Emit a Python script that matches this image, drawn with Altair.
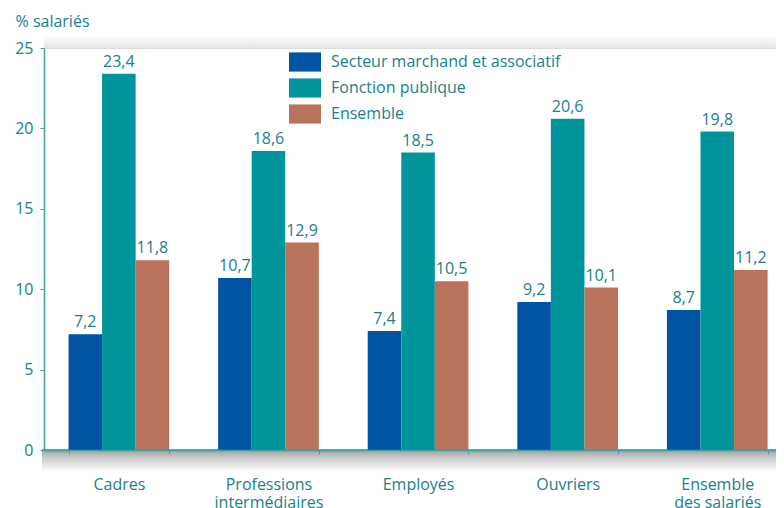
import altair as alt
import pandas as pd

categories = ["Cadres", "Professions intermédiaires", "Employés", "Ouvriers", "Ensemble des salariés"]
series = ["Secteur marchand et associatif", "Fonction publique", "Ensemble"]
secteur_marchand = [7.2, 10.7, 7.4, 9.2, 8.7]
fonction_publique = [23.4, 18.6, 18.5, 20.6, 19.8]
ensemble = [11.8, 12.9, 10.5, 10.1, 11.2]
colors = ["#0054a3", "#00959a", "#b9735a"]
y_ticks = [0, 5, 10, 15, 20, 25]

TEAL_TEXT = "#1a808b"
AXIS_COL = "#3f9ea6"
FONT = "Open Sans"
FS = 16
W = 732
H = 402

rows = []
for s, vals in zip(series, [secteur_marchand, fonction_publique, ensemble]):
    for c, v in zip(categories, vals):
        rows.append({"cat": c, "serie": s, "val": v})
df = pd.DataFrame(rows)

x_scale = alt.Scale(paddingInner=0.327, paddingOuter=0.11, align=0.745)
x_axis = alt.Axis(
    title=None,
    labelAngle=0,
    labelFontSize=FS,
    labelColor=TEAL_TEXT,
    labelFont=FONT,
    labelPadding=22,
    labelLineHeight=18.5,
    labelExpr="indexof(datum.label, ' ') > 0 ? [substring(datum.label, 0, indexof(datum.label, ' ')), substring(datum.label, indexof(datum.label, ' ') + 1)] : datum.label",
    tickBand="extent",
    tickSize=4,
    tickColor=AXIS_COL,
    domainColor=AXIS_COL,
    domainWidth=1.5,
    labelBaseline="top",
    zindex=1,
)
y_axis = alt.Axis(
    values=y_ticks,
    grid=False,
    tickSize=4,
    tickColor=AXIS_COL,
    domainColor=AXIS_COL,
    domainWidth=1.5,
    labelFontSize=FS,
    labelColor=TEAL_TEXT,
    labelFont=FONT,
    labelPadding=7,
    title="% salariés",
    titleAngle=0,
    titleAlign="left",
    titleBaseline="alphabetic",
    titleX=-29,
    titleY=-22,
    titleFontSize=FS,
    titleFontWeight="normal",
    titleColor=TEAL_TEXT,
    titleFont=FONT,
    zindex=1,
)

base = alt.Chart(df).encode(
    x=alt.X("cat:N", sort=categories, scale=x_scale, axis=x_axis),
    xOffset=alt.XOffset("serie:N", sort=series, scale=alt.Scale(paddingInner=0, paddingOuter=0)),
    y=alt.Y("val:Q", scale=alt.Scale(domain=[0, 25], nice=False), axis=y_axis),
)

shadow_df = pd.DataFrame({"k": [0]})
shadow_below = alt.Chart(shadow_df).mark_rect(
    color=alt.Gradient(
        gradient="linear",
        x1=0, y1=0, x2=0, y2=1,
        stops=[
            alt.GradientStop(offset=0, color="#9a9a9a"),
            alt.GradientStop(offset=0.35, color="#c8c8c8"),
            alt.GradientStop(offset=1, color="#ffffff"),
        ],
    )
).encode(x=alt.value(-2), x2=alt.value(W), y=alt.value(H - 1), y2=alt.value(H + 22))
shadow_above = alt.Chart(shadow_df).mark_rect(
    color=alt.Gradient(
        gradient="linear",
        x1=0, y1=0, x2=0, y2=1,
        stops=[
            alt.GradientStop(offset=0, color="#ffffff"),
            alt.GradientStop(offset=1, color="#e4e4e4"),
        ],
    )
).encode(x=alt.value(0), x2=alt.value(W), y=alt.value(-12), y2=alt.value(0))

bars = base.mark_bar().encode(
    color=alt.Color(
        "serie:N",
        sort=series,
        scale=alt.Scale(domain=series, range=colors),
        legend=alt.Legend(
            title=None,
            orient="none",
            legendX=245,
            legendY=-2,
            symbolType="M-1,-0.6H1V0.6H-1Z",
            symbolSize=1024,
            symbolStrokeWidth=0,
            symbolOpacity=1,
            labelFontSize=FS,
            labelColor=TEAL_TEXT,
            labelFont=FONT,
            labelOffset=10,
            labelLimit=400,
            rowPadding=-6,
            padding=0,
        ),
    ),
)

labels = base.transform_calculate(
    txt="replace(format(datum.val, '.1f'), '.', ',')"
).mark_text(baseline="alphabetic", dy=-7, fontSize=FS, color=TEAL_TEXT, font=FONT).encode(
    text="txt:N",
)

chart = (
    alt.layer(shadow_below, shadow_above, bars, labels)
    .properties(
        width=W,
        height=H,
        autosize=alt.AutoSizeParams(type="none"),
        padding={"left": 36, "top": 40, "right": 0, "bottom": 58},
    )
    .configure_view(fill="#dceaee", stroke=None)
    .configure(background="white")
)

chart.save("out.html", embed_options={"renderer": "svg", "actions": False})
